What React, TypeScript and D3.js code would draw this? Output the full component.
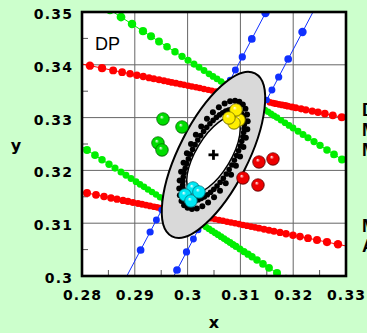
import React from 'react';
import * as d3 from 'd3';

const W = 367;
const H = 333;

// axis ticks
const xTicks = [0.28, 0.29, 0.3, 0.31, 0.32, 0.33];
const xTickLabels = ['0.28', '0.29', '0.3', '0.31', '0.32', '0.33'];
const yTicks = [0.3, 0.31, 0.32, 0.33, 0.34, 0.35];
const yTickLabels = ['0.3', '0.31', '0.32', '0.33', '0.34', '0.35'];
const xMinorTicks = [0.285, 0.295, 0.305, 0.315, 0.325];
const yMinorTicks = [0.305, 0.315, 0.325, 0.335, 0.345];

// dotted boundary lines [x, y]
const redUpper = [
  [0.2792, 0.34031], [0.2815, 0.33984], [0.2838, 0.33937], [0.2859, 0.33894], [0.2876, 0.3386],
  [0.2891, 0.33829], [0.2904, 0.33802], [0.2916, 0.33778], [0.2927, 0.33755], [0.2936, 0.33737],
  [0.2946, 0.33716], [0.2955, 0.33698], [0.2963, 0.33682], [0.297, 0.33667], [0.2978, 0.33651],
  [0.2986, 0.33635], [0.2993, 0.3362], [0.3001, 0.33604], [0.3008, 0.3359], [0.3016, 0.33573],
  [0.3023, 0.33559], [0.3031, 0.33543], [0.3039, 0.33526], [0.3046, 0.33512], [0.3054, 0.33496],
  [0.3061, 0.33481], [0.3069, 0.33465],
  [0.3156, 0.33287], [0.3162, 0.33275], [0.3167, 0.33264], [0.3173, 0.33252], [0.3179, 0.3324],
  [0.3185, 0.33228], [0.319, 0.33217], [0.3198, 0.33202], [0.3205, 0.33186], [0.3215, 0.33166],
  [0.3224, 0.33147], [0.3236, 0.33123], [0.3247, 0.33101], [0.326, 0.33074], [0.3275, 0.33043],
  [0.3292, 0.33008], [0.331, 0.32971],
];
const redLower = [
  [0.27905, 0.3161], [0.28095, 0.31572], [0.28265, 0.31537], [0.28417, 0.31506], [0.28549, 0.31479],
  [0.28663, 0.31455], [0.28777, 0.31432], [0.28871, 0.31413], [0.28966, 0.31393], [0.29061, 0.31374],
  [0.29136, 0.31359], [0.29212, 0.31343], [0.29288, 0.31328], [0.29364, 0.31312], [0.2942, 0.31301],
  [0.29477, 0.31289], [0.29534, 0.31277], [0.29591, 0.31266],
  [0.30386, 0.31103], [0.30443, 0.31091], [0.30519, 0.31076], [0.30595, 0.3106], [0.3067, 0.31045],
  [0.30746, 0.31029], [0.30822, 0.31014], [0.30898, 0.30998], [0.30973, 0.30983], [0.31049, 0.30967],
  [0.31125, 0.30952], [0.31201, 0.30936], [0.31277, 0.30921], [0.31352, 0.30906], [0.31447, 0.30886],
  [0.31542, 0.30867], [0.31636, 0.30847], [0.3175, 0.30824], [0.31864, 0.30801], [0.31996, 0.30774],
  [0.32129, 0.30747], [0.3228, 0.30716], [0.32451, 0.30681], [0.3264, 0.30642], [0.32848, 0.306],
  [0.33076, 0.30553],
];
const greenUpper = [
  [0.2853, 0.3504], [0.28739, 0.34905], [0.28947, 0.34771], [0.29155, 0.34636], [0.29307, 0.34539],
  [0.29458, 0.34441], [0.2961, 0.34343], [0.29761, 0.34246], [0.29894, 0.34161], [0.30008, 0.34087],
  [0.30121, 0.34013], [0.30216, 0.33953], [0.30311, 0.33892], [0.30405, 0.3383], [0.30481, 0.3378],
  [0.30557, 0.33733], [0.30633, 0.33684], [0.30708, 0.33634],
  [0.31466, 0.33146], [0.31523, 0.3311], [0.3158, 0.33072], [0.31636, 0.33036], [0.31693, 0.33],
  [0.31769, 0.32951], [0.31845, 0.32902], [0.3192, 0.32852], [0.31996, 0.32803], [0.32091, 0.32742],
  [0.32186, 0.32682], [0.3228, 0.32619], [0.32394, 0.32547], [0.32508, 0.32474], [0.3264, 0.32388],
  [0.32773, 0.32303], [0.32924, 0.32206], [0.33095, 0.32095],
];
const greenLower = [
  [0.27924, 0.32496], [0.28095, 0.32386], [0.28246, 0.32288], [0.28379, 0.32203], [0.28511, 0.32117],
  [0.28625, 0.32044], [0.28739, 0.3197], [0.28833, 0.31909], [0.28928, 0.31847], [0.29023, 0.31786],
  [0.29098, 0.31737], [0.29174, 0.31688], [0.2925, 0.31638], [0.29326, 0.31589], [0.29402, 0.31542],
  [0.29477, 0.31492], [0.29553, 0.31443],
  [0.30292, 0.30964], [0.30348, 0.30928], [0.30405, 0.30892], [0.30462, 0.30854], [0.30519, 0.30818],
  [0.30576, 0.30782], [0.30633, 0.30744], [0.30689, 0.30708], [0.30746, 0.30671], [0.30803, 0.30635],
  [0.3086, 0.30597], [0.30917, 0.30561], [0.30992, 0.30511], [0.31068, 0.30462], [0.31144, 0.30413],
  [0.3122, 0.30364], [0.31314, 0.30303], [0.31428, 0.30229], [0.31542, 0.30155], [0.31693, 0.30057],
  [0.31864, 0.29947],
];
const blueLeft = [
  [0.31784, 0.35568], [0.31475, 0.34981], [0.31216, 0.34489], [0.31036, 0.34148], [0.30905, 0.33902],
  [0.30807, 0.33712],
  [0.29509, 0.3125], [0.29409, 0.31061], [0.2929, 0.30833], [0.2911, 0.30492], [0.28799, 0.29905],
];
const blueRight = [
  [0.32574, 0.35379], [0.32176, 0.34621], [0.31905, 0.3411], [0.31725, 0.33769], [0.31597, 0.33523],
  [0.31496, 0.33333],
  [0.30199, 0.30871], [0.3011, 0.30701], [0.29979, 0.30455], [0.29799, 0.30114], [0.295, 0.29545],
];

// ellipse and rings: centre, semi-axes, rotation (deg)
const ellipseCentre = [0.3049, 0.32295];
const ellipseAxes = [0.01733, 0.00653];
const ellipseAngle = 63;
const outerRingAxes = [0.01117, 0.00473];
const outerRingAngle = 64;
const outerRingAngles = [0, 10, 20, 30, 40, 50, 60, 70, 80, 90, 100, 110, 120, 130, 140, 150, 160, 170,
  180, 190, 200, 210, 220, 230, 240, 250, 260, 270, 280, 290, 300, 310, 320, 330, 340, 350];
const denseRingAxes = [0.00966, 0.00398];
const denseRingAngle = 61;
const denseRingAngles = [0, 6, 12, 18, 24, 30, 36, 42, 48, 54, 60, 66, 72, 78, 84, 90, 96, 102, 108, 114,
  120, 126, 132, 138, 144, 150, 156, 162, 168, 174, 180, 186, 192, 198, 204, 210, 216, 222, 228, 234,
  240, 246, 252, 258, 264, 270, 276, 282, 288, 294, 300, 306, 312, 318, 324, 330, 336, 342, 348, 354];
const innerEllipseAxes = [0.00814, 0.00331];
const innerEllipseAngle = 59;

// spheres
const greenSpheres = [[0.29534, 0.32973], [0.29894, 0.32822], [0.29439, 0.32519], [0.29515, 0.32386]];
const yellowSpheres = [[0.30973, 0.32955], [0.30879, 0.32898], [0.30917, 0.33144], [0.30784, 0.32992]];
const cyanSpheres = [[0.30102, 0.31667], [0.29951, 0.31534], [0.30064, 0.3142], [0.30216, 0.31591]];
const redSpheres = [[0.31352, 0.32159], [0.31617, 0.32216], [0.31049, 0.31856], [0.31333, 0.31723]];

const sideLetters = ['D', 'M', 'M', 'M', 'A'];

const L = 82, R = 346, T = 12, B = 276;

export default function App() {
  const x = d3.scaleLinear().domain([0.28, 0.33]).range([L, R]);
  const y = d3.scaleLinear().domain([0.3, 0.35]).range([B, T]);
  const line = d3.line<number[]>().x(d => x(d[0])).y(d => y(d[1]));
  const ecx = x(ellipseCentre[0]);
  const ecy = y(ellipseCentre[1]);
  const rad = (px: number, py: number) => Math.min(4.4, 2.4 + 0.012 * Math.hypot(px - ecx, py - ecy));

  const ringPoint = (axes: number[], angDeg: number, tDeg: number) => {
    const t = (tDeg * Math.PI) / 180;
    const p = (angDeg * Math.PI) / 180;
    const u = axes[0] * Math.cos(t);
    const v = axes[1] * Math.sin(t);
    return [ellipseCentre[0] + u * Math.cos(p) - v * Math.sin(p), ellipseCentre[1] + u * Math.sin(p) + v * Math.cos(p)];
  };

  const ell = (axes: number[], ang: number, fill: string, sw: number) => (
    <ellipse
      cx={ecx}
      cy={ecy}
      rx={x(ellipseCentre[0] + axes[0]) - ecx}
      ry={x(ellipseCentre[0] + axes[1]) - ecx}
      transform={`rotate(${-ang} ${ecx} ${ecy})`}
      fill={fill}
      stroke="#000"
      strokeWidth={sw}
    />
  );

  const series = [
    { data: redUpper, color: '#ff0000' },
    { data: redLower, color: '#ff0000' },
    { data: greenUpper, color: '#00ee00' },
    { data: greenLower, color: '#00ee00' },
    { data: blueLeft, color: '#1030ff' },
    { data: blueRight, color: '#1030ff' },
  ];

  const sphereSets = [
    { data: greenSpheres, id: 'sg', main: '#00dd00', dark: '#006600' },
    { data: yellowSpheres, id: 'sy', main: '#ffee00', dark: '#7a7400' },
    { data: cyanSpheres, id: 'sc', main: '#00e8f4', dark: '#007078' },
    { data: redSpheres, id: 'sr', main: '#ee0000', dark: '#660000' },
  ];

  const tickFont = "'DejaVu Sans', Verdana, sans-serif";

  return (
    <svg width={W} height={H} style={{ position: 'absolute', left: 0, top: 0 }}>
      <defs>
        <clipPath id="plotclip">
          <rect x={L} y={T} width={R - L} height={B - T} />
        </clipPath>
        {sphereSets.map(s => (
          <radialGradient key={s.id} id={s.id} cx="50%" cy="50%" r="55%" fx="38%" fy="32%">
            <stop offset="0" stopColor="#ffffff" />
            <stop offset="0.3" stopColor={s.main} />
            <stop offset="0.8" stopColor={s.main} />
            <stop offset="1" stopColor={s.dark} />
          </radialGradient>
        ))}
      </defs>
      <rect x={0} y={0} width={W} height={H} fill="#ccffcc" />
      <rect x={L} y={T} width={R - L} height={B - T} fill="#ffffff" />

      {/* grid */}
      {xTicks.slice(1, -1).map(v => (
        <line key={'gx' + v} x1={x(v)} x2={x(v)} y1={T} y2={B} stroke="#666" strokeWidth={1} />
      ))}
      {yTicks.slice(1, -1).map(v => (
        <line key={'gy' + v} x1={L} x2={R} y1={y(v)} y2={y(v)} stroke="#666" strokeWidth={1} />
      ))}
      {xMinorTicks.map(v => (
        <line key={'mx' + v} x1={x(v)} x2={x(v)} y1={B} y2={B - 6} stroke="#555" strokeWidth={1} />
      ))}
      {yMinorTicks.map(v => (
        <line key={'my' + v} x1={L} x2={L + 6} y1={y(v)} y2={y(v)} stroke="#555" strokeWidth={1} />
      ))}

      <text x={95} y={50} fontFamily="'Liberation Sans', Arial, sans-serif" fontSize={18} fill="#000">DP</text>

      {/* dotted lines */}
      <g clipPath="url(#plotclip)">
        {series.map((s, i) => (
          <g key={'s' + i}>
            <path d={line(s.data) || ''} fill="none" stroke={s.color} strokeWidth={1} />
            {s.data.map((d, j) => {
              const px = x(d[0]);
              const py = y(d[1]);
              return <circle key={j} cx={px} cy={py} r={rad(px, py)} fill={s.color} />;
            })}
          </g>
        ))}
      </g>

      {/* ellipse with rings */}
      {ell(ellipseAxes, ellipseAngle, '#d9d9d9', 2)}
      {outerRingAngles.map(t => {
        const p = ringPoint(outerRingAxes, outerRingAngle, t);
        return <circle key={'or' + t} cx={x(p[0])} cy={y(p[1])} r={3} fill="#000" />;
      })}
      {denseRingAngles.map(t => {
        const p = ringPoint(denseRingAxes, denseRingAngle, t);
        return <circle key={'dr' + t} cx={x(p[0])} cy={y(p[1])} r={2.8} fill="#000" />;
      })}
      {ell(innerEllipseAxes, innerEllipseAngle, '#ffffff', 1.5)}

      {/* centre cross */}
      <g stroke="#000" strokeWidth={2.8}>
        <line x1={ecx - 5} x2={ecx + 5} y1={ecy} y2={ecy} />
        <line x1={ecx} x2={ecx} y1={ecy - 5} y2={ecy + 5} />
      </g>

      {/* spheres */}
      {sphereSets.map(s =>
        s.data.map((d, j) => (
          <circle key={s.id + j} cx={x(d[0])} cy={y(d[1])} r={6.3} fill={`url(#${s.id})`} stroke={s.dark} strokeWidth={0.7} />
        ))
      )}

      {/* frame */}
      <rect x={L} y={T} width={R - L} height={B - T} fill="none" stroke="#000" strokeWidth={2.6} />

      {/* tick labels */}
      {yTicks.map((v, i) => (
        <text key={'yl' + v} x={73.2} y={y(v) + 7} textAnchor="end" fontFamily={tickFont} fontWeight="bold" fontSize={14} letterSpacing={1.2} fill="#000">
          {yTickLabels[i]}
        </text>
      ))}
      {xTicks.map((v, i) => (
        <text key={'xl' + v} x={x(v) + 0.6} y={300} textAnchor="middle" fontFamily={tickFont} fontWeight="bold" fontSize={14} letterSpacing={1.2} fill="#000">
          {xTickLabels[i]}
        </text>
      ))}
      <text x={(L + R) / 2} y={328} textAnchor="middle" fontFamily={tickFont} fontWeight="bold" fontSize={16} fill="#000">x</text>
      <text x={16} y={151} textAnchor="middle" fontFamily={tickFont} fontWeight="bold" fontSize={16} fill="#000">y</text>

      {/* cut-off side texts */}
      {sideLetters.map((c, i) => (
        <text key={'sl' + i} x={362} y={[116, 136, 156, 232, 252][i]} fontFamily="'Liberation Sans', Arial, sans-serif" fontWeight="bold" fontSize={18} fill="#000">
          {c}
        </text>
      ))}
    </svg>
  );
}
